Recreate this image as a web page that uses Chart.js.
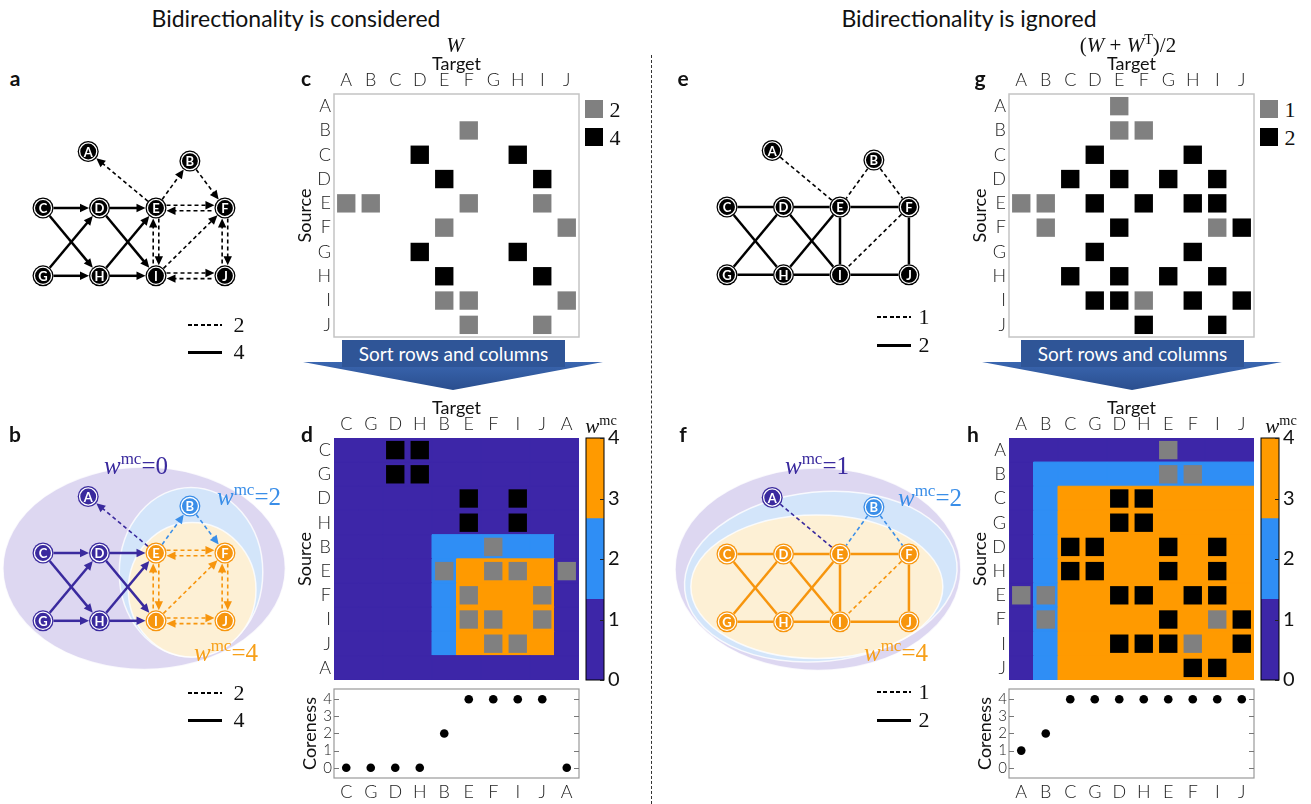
<!DOCTYPE html>
<html>
<head>
<meta charset="utf-8">
<title>Bidirectionality and coreness</title>
<script src="https://cdn.jsdelivr.net/npm/chart.js@4.4.1/dist/chart.umd.min.js"></script>
<style>
  html, body { margin: 0; padding: 0; background: #fff; }
  body { position: relative; width: 1311px; height: 804px; overflow: hidden; font-family: Lato, 'Open Sans', sans-serif; color: #111; }
  canvas { position: absolute; z-index: 1; }
  .t { position: absolute; transform: translate(-50%, -50%); white-space: nowrap; line-height: 1; z-index: 3; }
  .title { font-size: 23px; }
  .panel { font-weight: bold; font-size: 21px; }
  .math { font-family: 'Liberation Serif', 'DejaVu Serif', serif; }
  .math sup { font-size: 0.68em; vertical-align: 0.55em; line-height: 0; }
  .num { font-family: 'Liberation Serif', 'DejaVu Serif', serif; font-size: 22px; }
  .sq { position: absolute; width: 18px; height: 18px; z-index: 3; }
  .dash, .solid { position: absolute; width: 34px; z-index: 3; }
  .dash { height: 1.6px; background: repeating-linear-gradient(90deg, #000 0 4px, transparent 4px 6.5px); }
  .solid { height: 2.6px; background: #000; }
  .banner { position: absolute; top: 340px; width: 223px; height: 27px; line-height: 27px; background: #2f5597; color: #fff; font-size: 19px; text-align: center; z-index: 3; }
  .chev { position: absolute; top: 362px; width: 300px; height: 28px; clip-path: polygon(0 0, 100% 0, 50% 100%); background: linear-gradient(#3a66b0, #2a4e8e); z-index: 2; }
  .divider { position: absolute; left: 651px; top: 55px; height: 749px; border-left: 1.4px dashed #333; }
</style>
</head>
<body>
<div class="t title" style="left:296px;top:18px">Bidirectionality is considered</div>
<div class="t title" style="left:969px;top:18px">Bidirectionality is ignored</div>
<div class="divider"></div>

<div class="t panel" style="left:15px;top:77px">a</div>
<div class="t panel" style="left:306px;top:77px">c</div>
<div class="t panel" style="left:15px;top:433px">b</div>
<div class="t panel" style="left:307px;top:433px">d</div>
<div class="t panel" style="left:683px;top:77px">e</div>
<div class="t panel" style="left:980px;top:77px">g</div>
<div class="t panel" style="left:683px;top:433px">f</div>
<div class="t panel" style="left:973px;top:433px">h</div>

<div class="t math" style="left:455px;top:45px;font-size:21px"><i>W</i></div>
<div class="t math" style="left:1128px;top:45px;font-size:21px">(<i>W</i> + <i>W</i><sup>T</sup>)/2</div>
<div class="t math" style="left:601px;top:426px;font-size:21px"><i>w</i><sup>mc</sup></div>
<div class="t math" style="left:1281px;top:426px;font-size:21px"><i>w</i><sup>mc</sup></div>

<div class="t math" style="left:136px;top:465px;font-size:25px;color:#3a2a9e"><i>w</i><sup>mc</sup>=0</div>
<div class="t math" style="left:249px;top:496px;font-size:25px;color:#3a8ee8"><i>w</i><sup>mc</sup>=2</div>
<div class="t math" style="left:226px;top:652px;font-size:25px;color:#f7a01a"><i>w</i><sup>mc</sup>=4</div>
<div class="t math" style="left:817px;top:465px;font-size:25px;color:#3a2a9e"><i>w</i><sup>mc</sup>=1</div>
<div class="t math" style="left:930px;top:497px;font-size:25px;color:#3a8ee8"><i>w</i><sup>mc</sup>=2</div>
<div class="t math" style="left:896px;top:652px;font-size:25px;color:#f7a01a"><i>w</i><sup>mc</sup>=4</div>

<!-- line legends -->
<div class="dash" style="left:188px;top:324px"></div><div class="t num" style="left:239px;top:325px">2</div>
<div class="solid" style="left:188px;top:351px"></div><div class="t num" style="left:239px;top:352px">4</div>
<div class="dash" style="left:188px;top:692px"></div><div class="t num" style="left:239px;top:693px">2</div>
<div class="solid" style="left:188px;top:719px"></div><div class="t num" style="left:239px;top:720px">4</div>
<div class="dash" style="left:877px;top:316px"></div><div class="t num" style="left:924px;top:317px">1</div>
<div class="solid" style="left:877px;top:344px"></div><div class="t num" style="left:924px;top:345px">2</div>
<div class="dash" style="left:877px;top:691px"></div><div class="t num" style="left:924px;top:692px">1</div>
<div class="solid" style="left:877px;top:719px"></div><div class="t num" style="left:924px;top:720px">2</div>

<!-- matrix legends -->
<div class="sq" style="left:585px;top:100px;background:#808080"></div><div class="t num" style="left:615px;top:110px">2</div>
<div class="sq" style="left:585px;top:128px;background:#000"></div><div class="t num" style="left:615px;top:138px">4</div>
<div class="sq" style="left:1260px;top:100px;background:#808080"></div><div class="t num" style="left:1290px;top:110px">1</div>
<div class="sq" style="left:1260px;top:128px;background:#000"></div><div class="t num" style="left:1290px;top:138px">2</div>

<!-- sort arrows -->
<div class="chev" style="left:303px"></div>
<div class="banner" style="left:342px">Sort rows and columns</div>
<div class="chev" style="left:982px"></div>
<div class="banner" style="left:1021px">Sort rows and columns</div>

<script>
// ---- data ----
const nodes = ['A', 'B', 'C', 'D', 'E', 'F', 'G', 'H', 'I', 'J'];
const nodeX = [0.8, 2.6, 0, 1, 2, 3.22, 0, 1, 2, 3.22];
const nodeY = [1.0, 0.83, 0, 0, 0, 0, -1.2, -1.2, -1.2, -1.2];

// directed weights W (source -> target)
const wSource = ['B', 'C', 'C', 'D', 'D', 'E', 'E', 'E', 'E', 'F', 'F', 'G', 'G', 'H', 'H', 'I', 'I', 'I', 'J', 'J'];
const wTarget = ['F', 'D', 'H', 'E', 'I', 'A', 'B', 'F', 'I', 'E', 'J', 'D', 'H', 'E', 'I', 'E', 'F', 'J', 'F', 'I'];
const wValue  = [2, 4, 4, 4, 4, 2, 2, 2, 2, 2, 2, 4, 4, 4, 4, 2, 2, 2, 2, 2];

const corenessDir   = [0, 2, 0, 0, 4, 4, 0, 0, 4, 4];   // A..J
const corenessUndir = [1, 2, 4, 4, 4, 4, 4, 4, 4, 4];
const orderDir   = ['C', 'G', 'D', 'H', 'B', 'E', 'F', 'I', 'J', 'A'];
const orderUndir = ['A', 'B', 'C', 'G', 'D', 'H', 'E', 'F', 'I', 'J'];
const cbarTicks = [0, 1, 2, 3, 4];
const bandEdges = [0, 4 / 3, 8 / 3, 4];

// ---- styling ----
const bandColors = ['#3d26a8', '#2f8ef5', '#ff9a00'];
const nodeColors = ['#3a2a9e', '#3a8ee8', '#f7950d'];
const U = 56.5;        // px per layout unit in graphs
const NODE_R = 10.5;
const tickFont = { family: 'Lato', size: 18, weight: 300 };
const titleFont = { family: 'Lato', size: 18 };

const W = nodes.map(() => nodes.map(() => 0));
wSource.forEach((s, k) => { W[nodes.indexOf(s)][nodes.indexOf(wTarget[k])] = wValue[k]; });
const S = W.map((row, i) => row.map((v, j) => (v + W[j][i]) / 2));

function band(v, colors) {
  for (let k = 0; k < 3; k++) if (v < bandEdges[k + 1]) return colors[k];
  return colors[2];
}

function addCanvas(left, top, w, h) {
  const c = document.createElement('canvas');
  c.width = w; c.height = h;
  c.style.left = left + 'px'; c.style.top = top + 'px';
  document.body.appendChild(c);
  return c;
}

// fixed axis size, no extra label padding, so the plot box lands where we want it
function fixSize(prop, size) {
  return s => {
    s[prop] = size;
    s.paddingLeft = s.paddingRight = s.paddingTop = s.paddingBottom = 0;
  };
}

// ---- plugins ----
function arrowHead(ctx, x, y, ux, uy, color) {
  const l = 9, h = 4.2;
  ctx.beginPath();
  ctx.moveTo(x, y);
  ctx.lineTo(x - ux * l - uy * h, y - uy * l + ux * h);
  ctx.lineTo(x - ux * l + uy * h, y - uy * l - ux * h);
  ctx.closePath();
  ctx.fillStyle = color;
  ctx.fill();
}

const graphPlugin = {
  id: 'graph',
  beforeDatasetsDraw(chart, args, o) {
    if (!o || !o.edges) return;
    const ctx = chart.ctx, xs = chart.scales.x, ys = chart.scales.y;
    ctx.save();
    (o.hulls || []).forEach(h => {
      const cx = xs.getPixelForValue(h.x), cy = ys.getPixelForValue(h.y);
      const rx = xs.getPixelForValue(h.x + h.rx) - cx, ry = cy - ys.getPixelForValue(h.y + h.ry);
      ctx.beginPath();
      ctx.ellipse(cx, cy, rx, ry, h.rot || 0, 0, 2 * Math.PI);
      ctx.fillStyle = h.color;
      ctx.fill();
      ctx.lineWidth = 1.5;
      ctx.strokeStyle = 'rgba(255,255,255,0.8)';
      ctx.stroke();
    });
    const P = i => ({ x: xs.getPixelForValue(nodeX[i]), y: ys.getPixelForValue(nodeY[i]) });
    o.edges.forEach(e => {
      const p = P(e.a), q = P(e.b);
      const dx = q.x - p.x, dy = q.y - p.y, L = Math.hypot(dx, dy);
      const ux = dx / L, uy = dy / L, nx = -uy, ny = ux;
      const lanes = e.double ? [[-2.8, 'b'], [2.8, 'a']] : [[0, e.head]];
      lanes.forEach(([off, head]) => {
        const x1 = p.x + ux * NODE_R + nx * off, y1 = p.y + uy * NODE_R + ny * off;
        const x2 = q.x - ux * NODE_R + nx * off, y2 = q.y - uy * NODE_R + ny * off;
        let lx1 = x1, ly1 = y1, lx2 = x2, ly2 = y2;
        if (head === 'b') { lx2 -= ux * 6; ly2 -= uy * 6; }
        if (head === 'a') { lx1 += ux * 6; ly1 += uy * 6; }
        ctx.setLineDash(e.dash ? [4, 3] : []);
        ctx.lineWidth = e.dash ? 1.6 : 2.5;
        ctx.strokeStyle = e.color;
        ctx.beginPath(); ctx.moveTo(lx1, ly1); ctx.lineTo(lx2, ly2); ctx.stroke();
        ctx.setLineDash([]);
        if (head === 'b') arrowHead(ctx, x2, y2, ux, uy, e.color);
        if (head === 'a') arrowHead(ctx, x1, y1, -ux, -uy, e.color);
      });
    });
    ctx.restore();
  },
  afterDatasetsDraw(chart, args, o) {
    if (!o || !o.edges) return;
    const ctx = chart.ctx, xs = chart.scales.x, ys = chart.scales.y;
    ctx.save();
    ctx.fillStyle = '#fff';
    ctx.font = 'bold 13px Lato, sans-serif';
    ctx.textAlign = 'center';
    ctx.textBaseline = 'middle';
    nodes.forEach((n, i) => ctx.fillText(n, xs.getPixelForValue(nodeX[i]), ys.getPixelForValue(nodeY[i]) + 1));
    ctx.restore();
  }
};

const framePlugin = {
  id: 'frame',
  afterDraw(chart, args, o) {
    if (!o || !o.color) return;
    const a = chart.chartArea, ctx = chart.ctx;
    ctx.save();
    ctx.strokeStyle = o.color;
    ctx.lineWidth = o.width || 1;
    ctx.strokeRect(a.left, a.top, a.right - a.left, a.bottom - a.top);
    ctx.restore();
  }
};

const innerTicksPlugin = {
  id: 'innerTicks',
  afterDraw(chart, args, o) {
    if (!o || !o.axis) return;
    const s = chart.scales[o.axis], a = chart.chartArea, ctx = chart.ctx;
    ctx.save();
    ctx.strokeStyle = o.color;
    ctx.lineWidth = 1;
    s.ticks.forEach(t => {
      const y = Math.round(s.getPixelForValue(t.value)) + 0.5;
      ctx.beginPath();
      if (o.sides.includes('left')) { ctx.moveTo(a.left, y); ctx.lineTo(a.left + o.len, y); }
      if (o.sides.includes('right')) { ctx.moveTo(a.right, y); ctx.lineTo(a.right - o.len, y); }
      ctx.stroke();
    });
    ctx.restore();
  }
};

Chart.register(graphPlugin, framePlugin, innerTicksPlugin);

const base = {
  responsive: false, animation: false, events: [],
  plugins: { legend: { display: false }, tooltip: { enabled: false } }
};
const noGrid = { display: false, drawTicks: false };
const pad = (t, r, b, l) => ({ autoPadding: false, padding: { top: t, right: r, bottom: b, left: l } });

// ---- network graphs ----
function directedEdges(core) {
  const out = [];
  for (let i = 0; i < 10; i++) for (let j = i + 1; j < 10; j++) {
    const a = W[i][j], b = W[j][i];
    if (!a && !b) continue;
    const color = core ? band(Math.min(core[i], core[j]), nodeColors) : '#000';
    const w = Math.max(a, b);
    if (a && b) out.push({ a: i, b: j, double: true, dash: w <= 2, color });
    else if (a) out.push({ a: i, b: j, head: 'b', dash: w <= 2, color });
    else out.push({ a: j, b: i, head: 'b', dash: w <= 2, color });
  }
  return out;
}

function undirectedEdges(core) {
  const out = [];
  for (let i = 0; i < 10; i++) for (let j = i + 1; j < 10; j++) {
    if (!S[i][j]) continue;
    const color = core ? band(Math.min(core[i], core[j]), nodeColors) : '#000';
    out.push({ a: i, b: j, head: null, dash: S[i][j] <= 1, color });
  }
  return out;
}

function graphChart(box, origin, edges, core, hulls) {
  const cv = addCanvas(box[0], box[1], box[2], box[3]);
  const xmin = (box[0] - origin[0]) / U, xmax = xmin + box[2] / U;
  const ymax = (origin[1] - box[1]) / U, ymin = ymax - box[3] / U;
  const fill = nodes.map((n, i) => core ? band(core[i], nodeColors) : '#000');
  const pts = nodes.map((n, i) => ({ x: nodeX[i], y: nodeY[i] }));
  new Chart(cv, {
    type: 'scatter',
    data: {
      datasets: [
        { data: pts, pointRadius: 8.6, backgroundColor: fill, borderColor: '#fff', borderWidth: 1.3, order: 1 },
        { data: pts, pointRadius: NODE_R, backgroundColor: fill, borderWidth: 0, order: 2 }
      ]
    },
    options: Object.assign({}, base, {
      layout: pad(0, 0, 0, 0),
      plugins: Object.assign({}, base.plugins, { graph: { edges, hulls } }),
      scales: {
        x: { type: 'linear', display: false, min: xmin, max: xmax },
        y: { type: 'linear', display: false, min: ymin, max: ymax }
      }
    })
  });
}

graphChart([0, 95, 300, 290], [43, 208], directedEdges(null), null, []);
graphChart([0, 440, 300, 265], [43, 553], directedEdges(corenessDir), corenessDir, [
  { x: 1.79, y: -0.27, rx: 2.5, ry: 1.79, color: '#ddd7f1' },
  { x: 2.62, y: -0.34, rx: 1.27, ry: 1.5, color: '#d3e5fa' },
  { x: 2.64, y: -0.65, rx: 1.13, ry: 1.19, color: '#fdf0d5' }
]);
graphChart([655, 95, 300, 290], [727, 207], undirectedEdges(null), null, []);
graphChart([655, 440, 320, 265], [727, 554], undirectedEdges(corenessUndir), corenessUndir, [
  { x: 1.61, y: -0.27, rx: 2.53, ry: 1.79, color: '#ddd7f1' },
  { x: 1.66, y: -0.40, rx: 2.42, ry: 1.5, rot: -0.1, color: '#d3e5fa' },
  { x: 1.59, y: -0.58, rx: 2.23, ry: 1.27, color: '#fdf0d5' }
]);

// ---- matrices ----
function letterAxis(order, position, extra) {
  return Object.assign({
    type: 'linear', position, min: -0.5, max: 9.5,
    afterBuildTicks: s => { s.ticks = order.map((_, i) => ({ value: i })); },
    ticks: { callback: v => order[v], font: tickFont, color: '#1a1a1a', padding: 3, autoSkip: false, maxRotation: 0 },
    grid: noGrid, border: { display: false }
  }, extra);
}

const cellR = f => ctx => {
  const a = ctx.chart.chartArea;
  return (a ? a.right - a.left : 245) / 10 * f / Math.SQRT2;
};

function matrixChart(area, order, M, hi, core) {
  const cv = addCanvas(area[0] - 44, area[1] - 45, area[2] - area[0] + 46, area[3] - area[1] + 47);
  const idx = order.map(n => nodes.indexOf(n));
  const pts = [], cols = [], bg = [], bgCols = [];
  idx.forEach((ri, r) => idx.forEach((ci, c) => {
    const v = M[ri][ci];
    if (v) { pts.push({ x: c, y: r }); cols.push(v >= hi ? '#000' : '#808080'); }
    if (core) { bg.push({ x: c, y: r }); bgCols.push(band(Math.min(core[ri], core[ci]), bandColors)); }
  }));
  const datasets = [{ data: pts, pointStyle: 'rect', pointRadius: cellR(0.75), backgroundColor: cols, borderWidth: 0, order: 1 }];
  if (core) datasets.push({ data: bg, pointStyle: 'rect', pointRadius: cellR(1), backgroundColor: bgCols, borderColor: bgCols, borderWidth: 1, order: 2 });
  new Chart(cv, {
    type: 'scatter',
    data: { datasets },
    options: Object.assign({}, base, {
      layout: pad(0, 2, 2, 0),
      plugins: Object.assign({}, base.plugins, { frame: core ? {} : { color: '#c4c4c4', width: 1.5 } }),
      scales: {
        x: letterAxis(order, 'top', {
          title: { display: true, text: 'Target', font: titleFont, color: '#111', padding: { top: 4, bottom: 0 } },
          afterFit: fixSize('height', 45)
        }),
        y: letterAxis(order, 'left', {
          reverse: true,
          title: { display: true, text: 'Source', font: titleFont, color: '#111', padding: { top: 4, bottom: 0 } },
          afterFit: fixSize('width', 44)
        })
      }
    })
  });
}

function corenessChart(area, order, core) {
  const cv = addCanvas(area[0] - 44, area[1] - 1, area[2] - area[0] + 46, 804 - area[1] + 1);
  new Chart(cv, {
    type: 'scatter',
    data: { datasets: [{ data: order.map((n, i) => ({ x: i, y: core[nodes.indexOf(n)] })), pointRadius: 4.3, backgroundColor: '#000', borderWidth: 0 }] },
    options: Object.assign({}, base, {
      layout: pad(1, 2, 0, 0),
      plugins: Object.assign({}, base.plugins, {
        frame: { color: '#999', width: 1.2 },
        innerTicks: { axis: 'y', sides: ['left', 'right'], len: 5, color: '#777' }
      }),
      scales: {
        x: letterAxis(order, 'bottom', { afterFit: fixSize('height', 804 - area[3]) }),
        y: {
          type: 'linear', min: -0.6, max: 4.6,
          afterBuildTicks: s => { s.ticks = cbarTicks.map(v => ({ value: v })); },
          ticks: { font: { family: 'Lato', size: 15, weight: 300 }, color: '#1a1a1a', padding: 2, autoSkip: false, maxRotation: 0 },
          grid: noGrid, border: { display: false },
          title: { display: true, text: 'Coreness', font: titleFont, color: '#111', padding: { top: 9, bottom: 0 } },
          afterFit: fixSize('width', 44)
        }
      }
    })
  });
}

function colorbarChart(area) {
  const cv = addCanvas(area[0] - 1, area[1] - 12, area[2] - area[0] + 31, area[3] - area[1] + 24);
  new Chart(cv, {
    type: 'bar',
    data: {
      labels: [''],
      datasets: bandColors.map((c, k) => ({
        data: [[bandEdges[k], bandEdges[k + 1]]], backgroundColor: c, borderWidth: 0,
        barPercentage: 1, categoryPercentage: 1, grouped: false
      }))
    },
    options: Object.assign({}, base, {
      layout: pad(12, 0, 12, 1),
      plugins: Object.assign({}, base.plugins, {
        frame: { color: '#000', width: 1 },
        innerTicks: { axis: 'y', sides: ['right'], len: 4, color: '#222' }
      }),
      scales: {
        x: { display: false },
        y: {
          position: 'right', min: 0, max: 4,
          afterBuildTicks: s => { s.ticks = cbarTicks.map(v => ({ value: v })); },
          ticks: { font: { family: 'Lato', size: 20 }, color: '#111', padding: 4, autoSkip: false },
          grid: noGrid, border: { display: false },
          afterFit: fixSize('width', 30)
        }
      }
    })
  });
}

matrixChart([334, 94, 579, 337], nodes, W, 4, null);
matrixChart([1009, 94, 1254, 337], nodes, S, 2, null);
matrixChart([334, 438, 579, 680], orderDir, W, 4, corenessDir);
matrixChart([1009, 438, 1254, 680], orderUndir, S, 2, corenessUndir);
corenessChart([334, 689, 579, 778], orderDir, corenessDir);
corenessChart([1009, 689, 1254, 778], orderUndir, corenessUndir);
colorbarChart([586, 438, 604, 680]);
colorbarChart([1261, 438, 1279, 680]);
</script>
</body>
</html>
